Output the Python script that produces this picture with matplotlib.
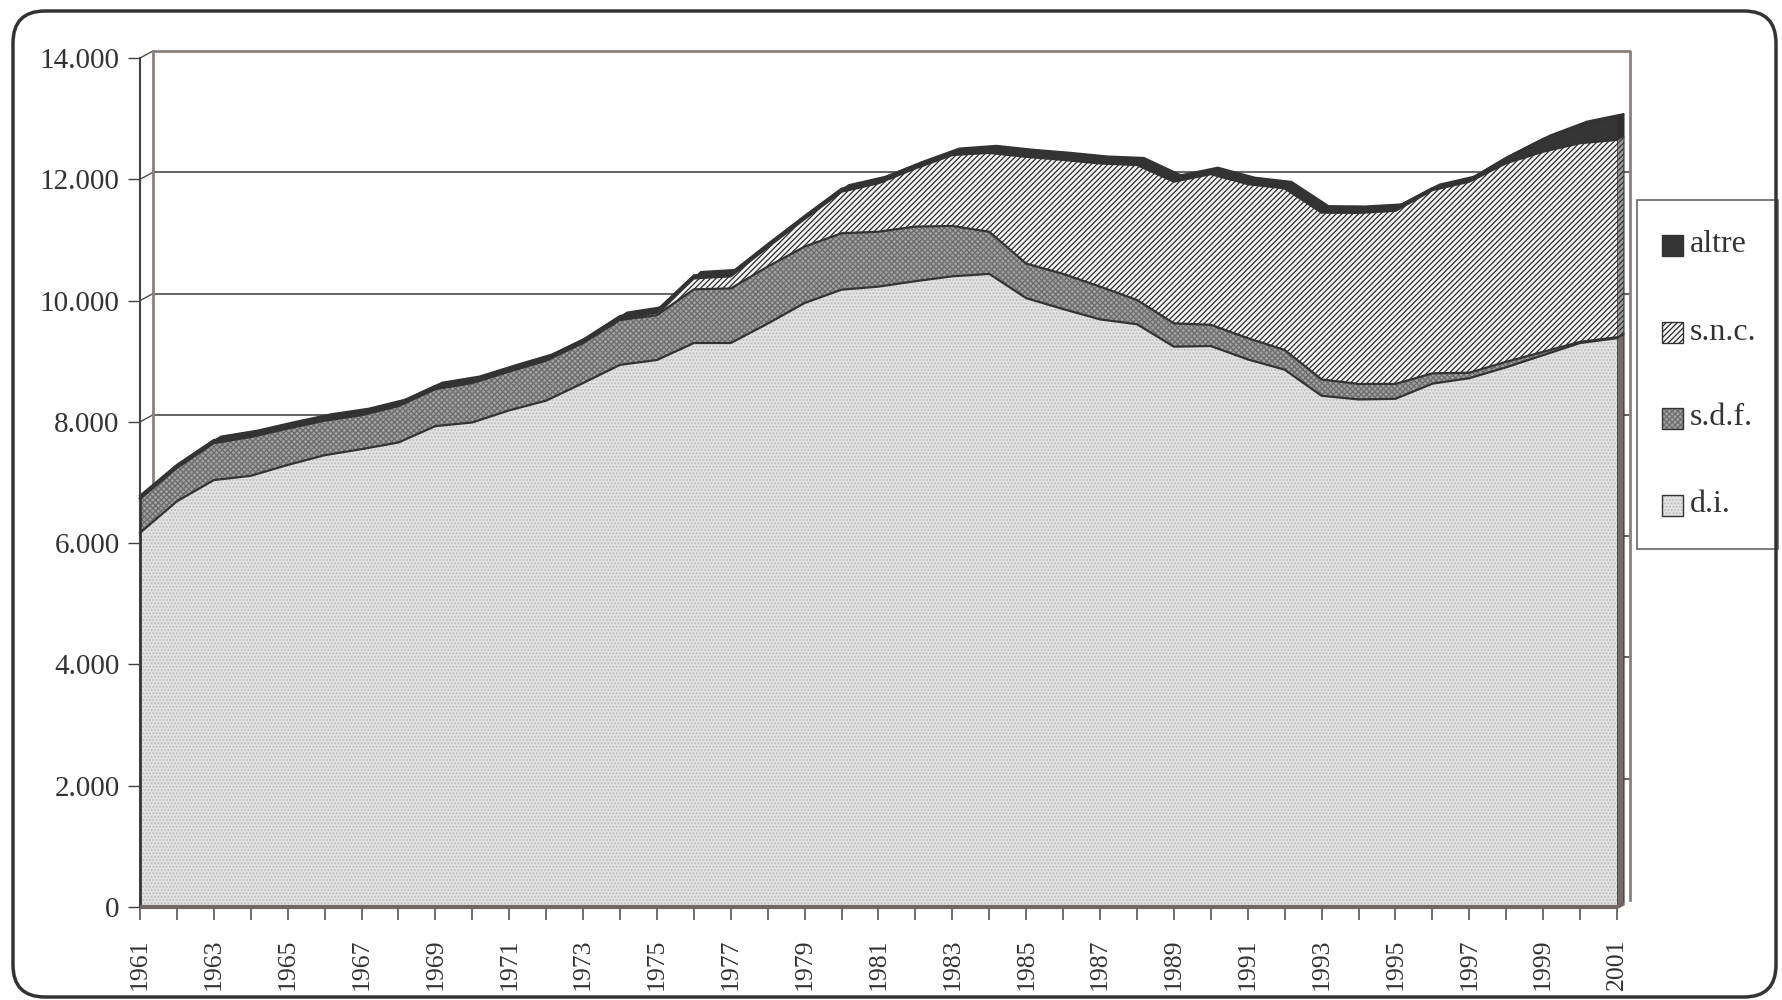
import matplotlib.pyplot as plt
import numpy as np
from matplotlib.patches import FancyBboxPatch, Rectangle, Polygon

plt.rcParams['font.family'] = ['Liberation Serif', 'DejaVu Serif']
plt.rcParams['hatch.linewidth'] = 0.9

anni = np.arange(1961, 2002)
di = [6170, 6690, 7040, 7110, 7290, 7450, 7550, 7660, 7930, 7990,
      8190, 8350, 8640, 8940, 9020, 9300, 9300, 9620, 9960, 10180,
      10230, 10320, 10400, 10440, 10040, 9860, 9690, 9610, 9240, 9250,
      9030, 8860, 8430, 8370, 8380, 8630, 8720, 8900, 9100, 9300, 9380]
sdf = [560, 550, 610, 640, 600, 570, 560, 600, 610, 650,
       640, 660, 660, 740, 740, 885, 900, 940, 930, 930,
       905, 900, 830, 695, 570, 580, 540, 400, 385, 350,
       350, 325, 270, 255, 245, 170, 90, 90, 55, 20, 15]
snc = [10, 10, 10, 10, 10, 10, 10, 10, 10, 10,
       10, 10, 15, 25, 40, 180, 200, 320, 455, 685,
       800, 960, 1170, 1300, 1760, 1880, 2030, 2225, 2335, 2485,
       2540, 2665, 2750, 2820, 2855, 3020, 3150, 3275, 3300, 3275, 3255]
altre = [40, 40, 40, 40, 40, 40, 40, 40, 40, 40,
         40, 40, 40, 40, 40, 50, 50, 50, 50, 50,
         50, 50, 50, 60, 60, 60, 60, 60, 50, 50,
         50, 50, 50, 50, 50, 35, 35, 90, 210, 300, 370]
nomi = ['d.i.', 's.d.f.', 's.n.c.', 'altre']
griglia = np.arange(0, 14001, 2000)

colori = ['#e2e2e2', '#a0a0a0', '#f4f4f4', '#353535']
tratteggi = ['.....', 'xxxxxx', '//////', None]
col_tratt = ['#bcbcbc', '#6c6c6c', '#2b2b2b', None]
col_lato = ['#776b69', '#5c5c5c', '#9a9a9a', '#2e2e2e']

W, H = 1782, 1000
fig = plt.figure(figsize=(W / 100, H / 100), dpi=100)
ax = fig.add_axes([140 / W, 93 / H, 1477 / W, 849 / H])
ax.set_xlim(1961, 2001)
ax.set_ylim(0, 14000)
for s in ax.spines.values():
    s.set_visible(False)

# profondita' della parete di fondo e delle serie (in unita' dei dati)
px_x = 40 / 1477
px_y = 14000 / 849
wx, wy = 13 * px_x, 7 * px_y
sx, sy = 7 * px_x, 3.8 * px_y

# parete di fondo con la griglia
for v in griglia[1:-1]:
    ax.plot([1961 + wx, 2001 + wx], [v + wy, v + wy], color='#4a4a4a', lw=1.2,
            clip_on=False, zorder=1)
for v in griglia:
    ax.plot([1961, 1961 + wx], [v, v + wy], color='#4a4a4a', lw=1,
            clip_on=False, zorder=1)
ax.plot([1961 + wx, 1961 + wx, 2001 + wx, 2001 + wx],
        [wy, 14000 + wy, 14000 + wy, wy], color='#8c807d', lw=2,
        clip_on=False, zorder=1)
ax.plot([1961, 1961], [0, 14000], color='#444444', lw=1.5, clip_on=False, zorder=1)

# aree impilate
strati = np.array([di, sdf, snc, altre], dtype=float)
cum = np.cumsum(strati, axis=0)
basi = np.vstack([np.zeros(len(anni)), cum[:-1]])

# faccia superiore (3D) della serie piu' alta
xs = np.concatenate([anni, anni[::-1] + sx])
ys = np.concatenate([cum[-1], cum[-1][::-1] + sy])
ax.add_patch(Polygon(np.column_stack([xs, ys]), closed=True, fc='#333333',
                     ec='#333333', lw=1, clip_on=False, zorder=2))

for i in range(4):
    ax.fill_between(anni, basi[i], cum[i], facecolor=colori[i], lw=0, zorder=3)
    if tratteggi[i]:
        ax.fill_between(anni, basi[i], cum[i], facecolor='none',
                        edgecolor=col_tratt[i], hatch=tratteggi[i], lw=0, zorder=3)
    ax.plot(anni, cum[i], color='#333333', lw=1.6, zorder=4, clip_on=False)
    # faccia laterale a destra
    lato = [(2001, basi[i][-1]), (2001, cum[i][-1]),
            (2001 + sx, cum[i][-1] + sy), (2001 + sx, basi[i][-1] + sy)]
    ax.add_patch(Polygon(lato, closed=True, fc=col_lato[i], ec='#333333', lw=0.8,
                         hatch=None if i != 2 else '//////', clip_on=False, zorder=2))

ax.plot([1961, 1961], [0, cum[-1][0]], color='#333333', lw=2, zorder=5)
ax.plot([1961, 2001, 2001 + sx], [0, 0, sy], color='#736766', lw=3,
        clip_on=False, zorder=5, solid_capstyle='butt')

# assi
ax.set_yticks(griglia)
ax.set_yticklabels([f'{v:,}'.replace(',', '.') for v in griglia])
ax.set_xticks(anni)
ax.set_xticklabels([str(a) if (a - 1961) % 2 == 0 else '' for a in anni], rotation=90)
ax.tick_params(axis='y', length=8.6, width=1, color='#444444', pad=6,
               labelsize=21, labelcolor='#333333')
ax.tick_params(axis='x', length=9.5, width=1.2, color='#555555', pad=13,
               labelsize=18.5, labelcolor='#333333')

# legenda
fig.add_artist(Rectangle((1637 / W, 1 - 549 / H), 141 / W, 349 / H,
                         transform=fig.transFigure, fill=False, ec='#666666', lw=1.2))
pos_leg = [245, 332, 418, 505]
for i, y in zip([3, 2, 1, 0], pos_leg):
    r = (1662 / W, 1 - (y + 10.5) / H)
    fig.add_artist(Rectangle(r, 21 / W, 21 / H, transform=fig.transFigure,
                             fc=colori[i], lw=0))
    if tratteggi[i]:
        fig.add_artist(Rectangle(r, 21 / W, 21 / H, transform=fig.transFigure,
                                 fill=False, ec=col_tratt[i], hatch=tratteggi[i], lw=0))
    fig.add_artist(Rectangle(r, 21 / W, 21 / H, transform=fig.transFigure,
                             fill=False, ec='#333333', lw=1))
    fig.text(1690 / W, 1 - y / H, nomi[i], va='center', ha='left',
             fontsize=23, color='#333333')

# cornice arrotondata
fig.add_artist(FancyBboxPatch((0.13, 0.03), 17.63, 9.86,
                              boxstyle='round,pad=0,rounding_size=0.32',
                              transform=fig.dpi_scale_trans, fill=False,
                              ec='#333333', lw=2.5))

plt.savefig('out.png', dpi=100)
